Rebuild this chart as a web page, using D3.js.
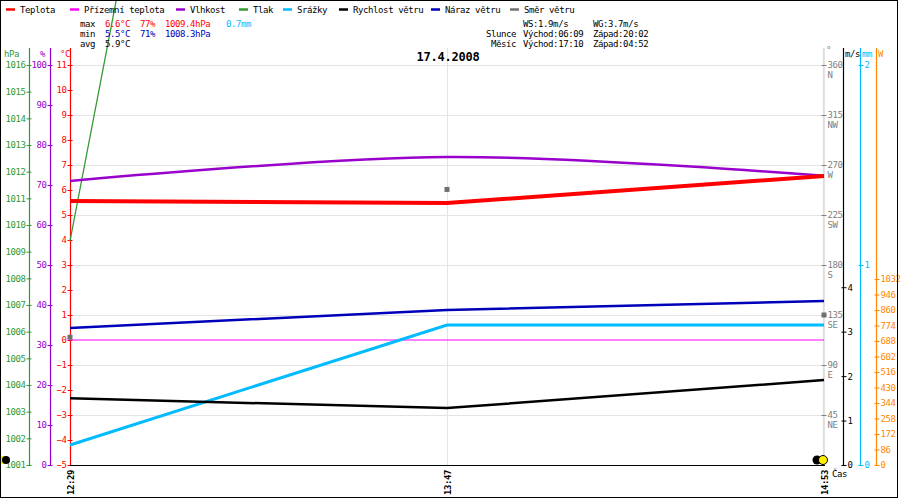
<!DOCTYPE html>
<html>
<head>
<meta charset="utf-8">
<title>17.4.2008</title>
<style>
  body { margin:0; background:#fff; }
  svg { display:block; font-family:"DejaVu Sans Mono", monospace; }
  text { font-size:9px; letter-spacing:-0.4px; }
</style>
</head>
<body>
<svg id="chart" width="900" height="500"></svg>
<script src="https://d3js.org/d3.v7.min.js"></script>
<script>
// --- data ---
var times = ["12:29", "13:47", "14:53"];
var temperature = [5.56, 5.48, 6.56];      // °C
var apparentTemp = [0, 0, 0];              // °C
var humidity = [71, 77, 72.3];             // %
var pressure = [1009.4, 1083, 1083];       // hPa (line runs off the top)
var precipitation = [0.1, 0.7, 0.7];       // mm
var windSpeed = [1.5, 1.28, 1.91];         // m/s
var windGust = [3.08, 3.49, 3.69];         // m/s
var windDir = [115, 248, 135];             // degrees

var legendNames = ["Teplota", "Přízemní teplota", "Vlhkost", "Tlak", "Srážky", "Rychlost větru", "Náraz větru", "Směr větru"];
var hpaTicks = d3.range(1001, 1017);
var humTicks = d3.range(0, 101, 10);
var tempTicks = d3.range(-5, 12);
var dirTicks = [45, 90, 135, 180, 225, 270, 315, 360];
var dirNames = ["NE", "E", "SE", "S", "SW", "W", "NW", "N"];
var wsTicks = [0, 1, 2, 3, 4];
var mmTicks = [0, 1, 2];
var wattTicks = d3.range(0, 1033, 86);
var title = "17.4.2008";

// --- layout ---
var plotTop = 65, plotBottom = 465, plotLeft = 70, plotRight = 824;
var col = {temp:"#ff0000", app:"#ff00ff", hum:"#9900cc", press:"#339933", rain:"#00bbff",
           ws:"#000000", wg:"#0000bb", dir:"#707070", watt:"#ff8800", grid:"#e4e4e4"};
var legendColors = [col.temp, col.app, col.hum, col.press, col.rain, col.ws, col.wg, col.dir];
var legendX = [6, 70, 176, 239, 283, 339, 431, 510];

var svg = d3.select("#chart");

var x = d3.scalePoint().domain(times).range([plotLeft, plotRight]);
var yT = d3.scaleLinear().domain([-5, 11]).range([plotBottom, plotTop]);
var yP = d3.scaleLinear().domain([1001, 1016]).range([plotBottom, plotTop]);
var yH = d3.scaleLinear().domain([0, 100]).range([plotBottom, plotTop]);
var yD = d3.scaleLinear().domain([0, 360]).range([plotBottom, plotTop]);
var yWs = d3.scaleLinear().domain([0, 9]).range([plotBottom, plotTop]);
var yMm = d3.scaleLinear().domain([0, 2]).range([plotBottom, plotTop]);
var yW = d3.scaleLinear().domain([0, 2220]).range([plotBottom, plotTop]);

// grid
svg.append("g").selectAll("line").data(dirTicks).join("line")
  .attr("x1", plotLeft).attr("x2", plotRight)
  .attr("y1", d => Math.round(yD(d)) + 0.5).attr("y2", d => Math.round(yD(d)) + 0.5)
  .attr("stroke", col.grid);
svg.append("g").selectAll("line").data(times.slice(1)).join("line")
  .attr("x1", d => Math.round(x(d)) + 0.5).attr("x2", d => Math.round(x(d)) + 0.5)
  .attr("y1", 48).attr("y2", plotBottom)
  .attr("stroke", col.grid);

// axes
function drawAxis(scale, xpos, ticks, color, side, lineColor, fmt) {
  var axis = (side == "left" ? d3.axisLeft(scale) : d3.axisRight(scale))
    .tickValues(ticks).tickSizeInner(3).tickSizeOuter(0).tickPadding(1)
    .tickFormat(fmt || d3.format("d"));
  svg.append("line")
    .attr("x1", xpos + 0.5).attr("x2", xpos + 0.5).attr("y1", 48).attr("y2", plotBottom)
    .attr("stroke", lineColor || color).attr("stroke-width", 1.2);
  var g = svg.append("g").attr("transform", "translate(" + (xpos + 0.5) + ",0)").call(axis);
  g.attr("font-family", null).attr("font-size", null);
  g.select(".domain").remove();
  g.selectAll(".tick line").attr("stroke", color).attr("x1", side == "left" ? 2 : -2);
  g.selectAll(".tick text").attr("fill", color);
  return g;
}
drawAxis(yP, 29, hpaTicks, col.press, "left");
drawAxis(yH, 50, humTicks, col.hum, "left");
drawAxis(yT, 70, tempTicks, col.temp, "left");
var gd = drawAxis(yD, 823, dirTicks, "#808080", "right", "#dddddd");
gd.selectAll(".tick").append("text")
  .attr("x", 4).attr("dy", "1.35em").attr("fill", "#808080")
  .text(d => dirNames[dirTicks.indexOf(d)]);
drawAxis(yWs, 843, wsTicks, col.ws, "right");
drawAxis(yMm, 860, mmTicks, col.rain, "right");
drawAxis(yW, 876, wattTicks, col.watt, "right");

// unit labels
var units = [["hPa", 4, col.press], ["%", 40, col.hum], ["°C", 60, col.temp],
             ["m/s", 845, "#000"], ["mm", 862, col.rain], ["W", 878, col.watt]];
svg.append("g").selectAll("text").data(units).join("text")
  .attr("x", d => d[1]).attr("y", 57).attr("fill", d => d[2]).text(d => d[0]);
svg.append("text").attr("x", 826).attr("y", 53).attr("fill", "#808080").text("°");

// x axis
svg.append("line").attr("x1", plotLeft).attr("x2", plotRight + 1)
  .attr("y1", plotBottom + 0.5).attr("y2", plotBottom + 0.5).attr("stroke", "#000");
svg.append("g").selectAll("text").data(times).join("text")
  .attr("transform", d => "translate(" + (x(d) + 3.5) + "," + (plotBottom + 5) + ") rotate(-90)")
  .attr("text-anchor", "end").attr("font-weight", "bold").text(d => d);
svg.append("text").attr("x", 832).attr("y", 477).text("Čas");

// series
function line(values, yScale, color, width, curve) {
  svg.append("path")
    .datum(values)
    .attr("fill", "none").attr("stroke", color).attr("stroke-width", width)
    .attr("d", d3.line().x((d, i) => x(times[i])).y(d => yScale(d)).curve(curve || d3.curveLinear));
}
line(apparentTemp, yT, col.app, 1);
line(pressure, yP, col.press, 1.3);
line(precipitation, yMm, col.rain, 3);
line(windSpeed, yWs, col.ws, 2.5);
line(windGust, yWs, col.wg, 2.5);
line(humidity, yH, col.hum, 2.5, d3.curveCardinal);
line(temperature, yT, col.temp, 4);

svg.append("g").selectAll("rect").data(windDir).join("rect")
  .attr("x", (d, i) => x(times[i]) - 2.5).attr("y", d => yD(d) - 2.5)
  .attr("width", 5).attr("height", 5).attr("fill", col.dir);

// sun / moon marks
svg.append("circle").attr("cx", 3).attr("cy", 460).attr("r", 4).attr("fill", "#ffee00");
svg.append("circle").attr("cx", 6).attr("cy", 460).attr("r", 4).attr("fill", "#000");
svg.append("circle").attr("cx", 817).attr("cy", 460).attr("r", 4.5).attr("fill", "#000");
svg.append("circle").attr("cx", 823).attr("cy", 460).attr("r", 4.5).attr("fill", "#ffee00").attr("stroke", "#000");

// legend
var lg = svg.append("g").selectAll("g").data(legendNames).join("g")
  .attr("transform", (d, i) => "translate(" + legendX[i] + ",0)");
lg.append("line").attr("x1", 0).attr("x2", 9).attr("y1", 9.5).attr("y2", 9.5)
  .attr("stroke", (d, i) => legendColors[i]).attr("stroke-width", 2.5);
lg.append("text").attr("x", 14).attr("y", 12.5).text(d => d);

// stats block
var stats = [
  [80, 27, "#000", "max"], [105, 27, col.temp, "6.6°C"], [140, 27, col.temp, "77%"],
  [165, 27, col.temp, "1009.4hPa"], [226, 27, col.rain, "0.7mm"],
  [80, 37, "#000", "min"], [105, 37, col.wg, "5.5°C"], [140, 37, col.wg, "71%"],
  [165, 37, col.wg, "1008.3hPa"],
  [80, 47, "#000", "avg"], [105, 47, "#000", "5.9°C"],
  [523, 27, "#000", "WS:1.9m/s"], [593, 27, "#000", "WG:3.7m/s"],
  [486, 37, "#000", "Slunce"], [523, 37, "#000", "Východ:06:09"], [593, 37, "#000", "Západ:20:02"],
  [491, 47, "#000", "Měsíc"], [523, 47, "#000", "Východ:17:10"], [593, 47, "#000", "Západ:04:52"]
];
svg.append("g").selectAll("text").data(stats).join("text")
  .attr("x", d => d[0]).attr("y", d => d[1]).attr("fill", d => d[2]).text(d => d[3]);

svg.append("text").attr("x", 448).attr("y", 61).attr("text-anchor", "middle")
  .attr("font-weight", "bold").style("font-size", "12px").style("letter-spacing", "-0.2px").text(title);

// frame
svg.append("rect").attr("x", 0.5).attr("y", 0.5).attr("width", 897).attr("height", 497)
  .attr("fill", "none").attr("stroke", "#000");
</script>
</body>
</html>
